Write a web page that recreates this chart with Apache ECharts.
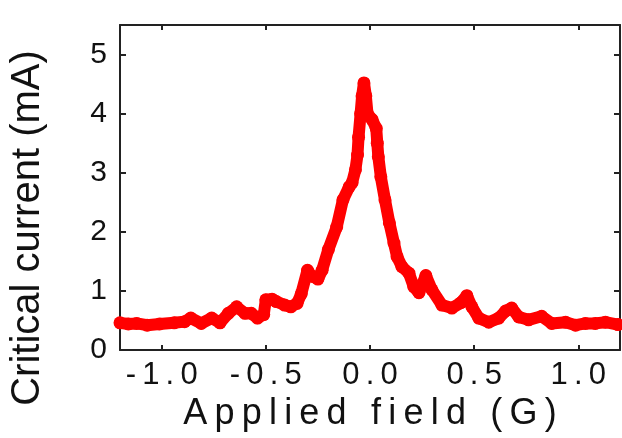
<!DOCTYPE html>
<html>
<head>
<meta charset="utf-8">
<script src="https://cdn.jsdelivr.net/npm/echarts@6/dist/echarts.min.js"></script>
<style>
  html, body { margin: 0; padding: 0; background: #fff; }
  #chart { width: 622px; height: 438px; }
</style>
</head>
<body>
<div id="chart"></div>
<script>
// applied field (G) and critical current (mA)
const fieldG = [
  -1.20, -1.16, -1.12, -1.07, -1.01, -0.94, -0.89, -0.86, -0.81, -0.76,
  -0.72, -0.68, -0.64, -0.60, -0.57, -0.54, -0.51, -0.50, -0.47, -0.45,
  -0.41, -0.38, -0.35, -0.33, -0.30, -0.28, -0.25, -0.23, -0.20, -0.16,
  -0.13, -0.10, -0.086, -0.070, -0.060, -0.055, -0.045, -0.038, -0.029, -0.020,
  -0.012, 0.010, 0.030, 0.035, 0.040, 0.052, 0.072, 0.093, 0.115, 0.13,
  0.153, 0.187, 0.21, 0.235, 0.268, 0.297, 0.345, 0.393, 0.436, 0.465,
  0.489, 0.522, 0.57, 0.618, 0.651, 0.68, 0.714, 0.761, 0.824, 0.872,
  0.939, 0.987, 1.034, 1.082, 1.13, 1.19
];
const currentMA = [
  0.46, 0.44, 0.45, 0.42, 0.44, 0.46, 0.48, 0.54, 0.45, 0.54,
  0.46, 0.62, 0.73, 0.62, 0.62, 0.54, 0.60, 0.85, 0.86, 0.82,
  0.76, 0.73, 0.79, 0.95, 1.35, 1.25, 1.20, 1.35, 1.70, 2.08,
  2.54, 2.76, 2.83, 3.05, 3.30, 3.60, 4.00, 4.30, 4.52, 4.30,
  4.00, 3.90, 3.75, 3.50, 3.27, 2.93, 2.54, 2.15, 1.81, 1.58,
  1.41, 1.30, 1.07, 0.97, 1.26, 1.02, 0.76, 0.71, 0.80, 0.92,
  0.73, 0.54, 0.47, 0.54, 0.66, 0.71, 0.56, 0.51, 0.57, 0.45,
  0.47, 0.42, 0.45, 0.45, 0.47, 0.43
];
const xTicks = [-1.0, -0.5, 0.0, 0.5, 1.0];
const yTicks = [0, 1, 2, 3, 4, 5];

const chart = echarts.init(document.getElementById("chart"));
const font = "Liberation Sans";
const spaced = (s) => s.split("").join("\u2009");

const axisLine = { show: true, onZero: false, lineStyle: { color: "#222", width: 2 } };
const tickStyle = { color: "#222", width: 2 };

chart.setOption({
  animation: false,
  backgroundColor: "#fff",
  grid: { left: 120, right: 2, top: 25, bottom: 88 },
  xAxis: [
    {
      type: "value",
      min: -1.2,
      max: 1.2,
      axisLine: axisLine,
      axisTick: { show: true, inside: true, length: 5, customValues: xTicks, lineStyle: tickStyle },
      axisLabel: {
        customValues: xTicks,
        margin: 10,
        fontFamily: font,
        fontSize: 31,
        color: "#111",
        formatter: (v) => spaced(v.toFixed(1)),
      },
      splitLine: { show: false },
      name: spaced("Applied field (G)"),
      nameLocation: "middle",
      nameGap: 45,
      nameTextStyle: { fontFamily: font, fontSize: 36, color: "#111" },
    },
    {
      type: "value",
      position: "top",
      min: -1.2,
      max: 1.2,
      axisLine: axisLine,
      axisTick: { show: true, inside: true, length: 5, customValues: xTicks, lineStyle: tickStyle },
      axisLabel: { show: false },
      splitLine: { show: false },
    },
  ],
  yAxis: [
    {
      type: "value",
      min: 0,
      max: 5.5,
      axisLine: axisLine,
      axisTick: { show: true, inside: true, length: 6, customValues: yTicks, lineStyle: tickStyle },
      axisLabel: {
        customValues: yTicks,
        margin: 13,
        fontFamily: font,
        fontSize: 30,
        color: "#111",
      },
      splitLine: { show: false },
    },
    {
      type: "value",
      position: "right",
      min: 0,
      max: 5.5,
      axisLine: axisLine,
      axisTick: { show: true, inside: true, length: 6, customValues: yTicks, lineStyle: tickStyle },
      axisLabel: { show: false },
      splitLine: { show: false },
    },
  ],
  graphic: [
    {
      type: "text",
      x: 28,
      y: 228,
      rotation: Math.PI / 2,
      style: {
        text: "Critical current (mA)",
        font: "40px " + font,
        fill: "#111",
        align: "center",
        verticalAlign: "middle",
      },
    },
  ],
  series: [
    {
      type: "line",
      data: fieldG.map((x, i) => [x, currentMA[i]]),
      symbol: "circle",
      symbolSize: 13,
      showSymbol: true,
      clip: true,
      itemStyle: { color: "#ff0000" },
      lineStyle: { color: "#ff0000", width: 12, join: "round", cap: "round" },
    },
  ],
});
</script>
</body>
</html>
